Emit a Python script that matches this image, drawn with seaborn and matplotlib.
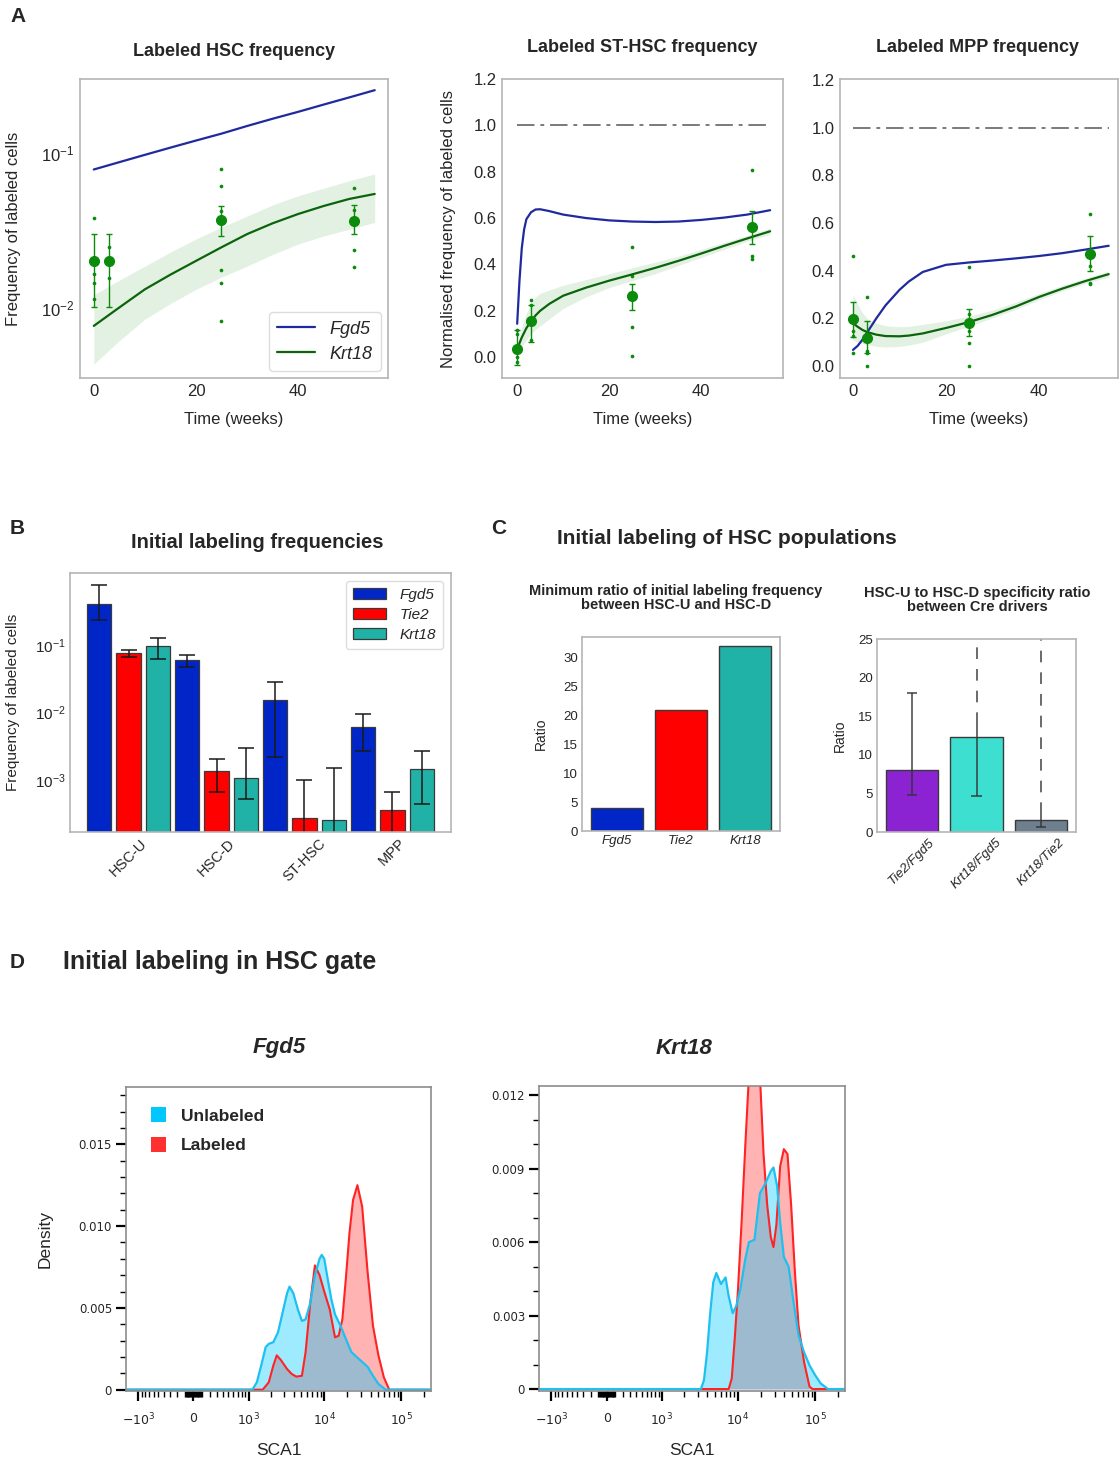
import numpy as np
import pandas as pd
import matplotlib
matplotlib.use("Agg")
import matplotlib.pyplot as plt
import seaborn as sns
from matplotlib.patches import Patch
from matplotlib.lines import Line2D
from matplotlib.ticker import (LogLocator, NullLocator, FixedLocator,
                               MultipleLocator, FormatStrFormatter)

# ---------------------------------------------------------------- data: panel A
T_HSC = [0, 5, 10, 15, 20, 25, 30, 35, 40, 45, 50, 55]
HSC_FGD5 = [0.078, 0.087, 0.097, 0.108, 0.120, 0.133, 0.149, 0.166, 0.184, 0.205, 0.228, 0.254]
HSC_KRT18 = [0.0076, 0.0100, 0.0131, 0.0163, 0.0200, 0.0245, 0.0298, 0.0350, 0.0402, 0.0453, 0.0503, 0.0542]
HSC_BAND_LO = [0.0043, 0.0061, 0.0084, 0.0106, 0.0131, 0.0157, 0.0185, 0.0220, 0.0257, 0.0290, 0.0320, 0.0355]
HSC_BAND_HI = [0.0121, 0.0150, 0.0185, 0.0228, 0.0277, 0.0330, 0.0390, 0.0460, 0.0528, 0.0590, 0.0660, 0.0730]
HSC_T = [0, 3, 25, 51]
HSC_MEAN = [0.020, 0.020, 0.0369, 0.036]
HSC_LO = [0.010, 0.010, 0.0288, 0.0297]
HSC_HI = [0.030, 0.030, 0.0455, 0.046]
HSC_DOT_T = [0, 0, 0, 0, 3, 3, 3, 25, 25, 25, 25, 25, 25, 51, 51, 51, 51]
HSC_DOT_V = [0.0378, 0.0164, 0.0143, 0.0113, 0.0246, 0.0195, 0.0154,
             0.0787, 0.0613, 0.0418, 0.0175, 0.0143, 0.0082,
             0.0593, 0.0428, 0.0236, 0.0183]

T_ST = [0, 0.5, 1, 1.5, 2, 3, 4, 5, 7, 10, 15, 20, 25, 30, 35, 40, 45, 50, 55]
ST_FGD5 = [0.144, 0.33, 0.47, 0.55, 0.595, 0.625, 0.637, 0.638, 0.63, 0.615, 0.60, 0.59,
           0.585, 0.583, 0.585, 0.592, 0.602, 0.615, 0.634]
ST_KRT18 = [0.03, 0.06, 0.085, 0.105, 0.125, 0.155, 0.18, 0.20, 0.23, 0.265, 0.30, 0.33,
            0.357, 0.385, 0.415, 0.447, 0.48, 0.512, 0.543]
ST_BAND_LO = [0.01, 0.03, 0.045, 0.06, 0.075, 0.10, 0.12, 0.135, 0.165, 0.21, 0.26, 0.30,
              0.33, 0.36, 0.395, 0.43, 0.465, 0.50, 0.53]
ST_BAND_HI = [0.05, 0.09, 0.13, 0.16, 0.19, 0.23, 0.26, 0.275, 0.29, 0.31, 0.335, 0.36,
              0.385, 0.41, 0.435, 0.465, 0.495, 0.525, 0.557]
ST_T = [0, 3, 25, 51]
ST_MEAN = [0.033, 0.154, 0.262, 0.56]
ST_LO = [-0.036, 0.065, 0.204, 0.489]
ST_HI = [0.115, 0.223, 0.317, 0.629]
ST_DOT_T = [0, 0, 0, 0, 3, 3, 3, 25, 25, 25, 25, 51, 51, 51]
ST_DOT_V = [0.118, 0.10, 0.0, -0.02, 0.245, 0.223, 0.072, 0.475, 0.352, 0.129, 0.003,
            0.806, 0.435, 0.424]

T_MPP = [0, 1, 2, 3, 5, 7, 10, 12, 15, 20, 25, 30, 35, 40, 45, 50, 55]
MPP_FGD5 = [0.068, 0.085, 0.11, 0.14, 0.20, 0.255, 0.32, 0.355, 0.395, 0.425, 0.435, 0.443,
            0.452, 0.462, 0.474, 0.489, 0.505]
MPP_KRT18 = [0.18, 0.165, 0.152, 0.143, 0.132, 0.126, 0.125, 0.128, 0.137, 0.16, 0.185,
             0.215, 0.25, 0.29, 0.325, 0.357, 0.386]
MPP_BAND_LO = [0.11, 0.10, 0.095, 0.09, 0.083, 0.08, 0.082, 0.088, 0.10, 0.135, 0.168,
               0.202, 0.238, 0.278, 0.315, 0.347, 0.374]
MPP_BAND_HI = [0.30, 0.26, 0.225, 0.20, 0.18, 0.17, 0.165, 0.167, 0.175, 0.19, 0.21,
               0.235, 0.268, 0.305, 0.338, 0.369, 0.398]
MPP_T = [0, 3, 25, 51]
MPP_MEAN = [0.196, 0.119, 0.18, 0.47]
MPP_LO = [0.12, 0.056, 0.126, 0.40]
MPP_HI = [0.27, 0.19, 0.24, 0.545]
MPP_DOT_T = [0, 0, 0, 0, 3, 3, 3, 3, 25, 25, 25, 25, 25, 51, 51, 51, 51]
MPP_DOT_V = [0.46, 0.147, 0.126, 0.056, 0.29, 0.063, 0.056, 0.0,
             0.417, 0.218, 0.147, 0.098, 0.0, 0.64, 0.42, 0.35, 0.344]

REF_T = [0, 55]
REF_LEVEL = [1.0, 1.0]

# ---------------------------------------------------------------- data: panel B
POPS = ["HSC-U", "HSC-D", "ST-HSC", "MPP"]
DRIVERS = ["Fgd5", "Tie2", "Krt18"]
B_FGD5 = [0.402, 0.0587, 0.01545, 0.00611]
B_FGD5_LO = [0.2286, 0.0469, 0.00221, 0.0027]
B_FGD5_HI = [0.758, 0.0712, 0.0282, 0.00961]
B_TIE2 = [0.0754, 0.00136, 0.000279, 0.000357]
B_TIE2_LO = [0.0658, 0.000673, 1e-5, 1e-5]
B_TIE2_HI = [0.0844, 0.00204, 0.00102, 0.000673]
B_KRT18 = [0.0945, 0.00109, 0.000254, 0.00147]
B_KRT18_LO = [0.0622, 0.000525, 1e-5, 0.000443]
B_KRT18_HI = [0.1254, 0.00303, 0.00149, 0.0027]

# ---------------------------------------------------------------- data: panel C
C1_DRIVERS = ["Fgd5", "Tie2", "Krt18"]
C1_RATIO = [4.0, 21.0, 32.0]
C2_PAIRS = ["Tie2/Fgd5", "Krt18/Fgd5", "Krt18/Tie2"]
C2_RATIO = [8.0, 12.3, 1.5]
C2_LO = [4.8, 4.6, 0.6]
C2_HI = [18.0, 14.0, 2.3]
C2_OPEN_ENDED = [False, True, True]

# ---------------------------------------------------------------- data: panel D
FGD5_UNLAB_X = [-1480, 1000, 1130, 1300, 1490, 1710, 1880, 2160, 2490, 2860, 3280, 3530,
                3950, 4540, 5120, 5720, 6580, 7560, 8690, 9290, 10000, 11100, 12400,
                13800, 16300, 19100, 22500, 26400, 31100, 36600, 43000, 50600, 62900, 244000]
FGD5_UNLAB_D = [0, 0, 0, 0.00045, 0.00147, 0.0026, 0.0028, 0.0029, 0.0035, 0.0047, 0.0059,
                0.0063, 0.0059, 0.0049, 0.0042, 0.0043, 0.0053, 0.0070, 0.0080, 0.00824,
                0.0080, 0.00676, 0.0055, 0.0046, 0.0039, 0.0031, 0.0023, 0.0020, 0.0017,
                0.0014, 0.00085, 0.00035, 0, 0]
FGD5_LAB_X = [-1480, 1560, 1880, 2160, 2400, 2730, 3280, 3770, 4330, 5120, 5720, 6580,
              7560, 8690, 10000, 11800, 13800, 15400, 17200, 19100, 21300, 23700, 27000,
              31100, 36600, 43000, 50600, 59600, 70000, 244000]
FGD5_LAB_D = [0, 0, 0.00045, 0.00147, 0.0021, 0.0018, 0.00126, 0.00096, 0.0008, 0.00085,
              0.0023, 0.0053, 0.0076, 0.0070, 0.0060, 0.0049, 0.0032, 0.0033, 0.0043,
              0.0068, 0.0096, 0.0116, 0.0125, 0.0112, 0.0072, 0.0039, 0.0021, 0.00075, 0, 0]
KRT18_UNLAB_X = [-1480, 3000, 3310, 3630, 3980, 4370, 4790, 5250, 6030, 6920, 7590, 8560,
                 9550, 10800, 12450, 13900, 16400, 19300, 22700, 26700, 28900, 32200,
                 35300, 39400, 45400, 51800, 61000, 72000, 84700, 100000, 118000, 147000,
                 244000]
KRT18_UNLAB_D = [0, 0, 0, 0.00037, 0.0015, 0.0031, 0.00436, 0.00474, 0.00429, 0.00456,
                 0.0038, 0.0031, 0.0034, 0.0041, 0.0053, 0.0060, 0.0061, 0.0080, 0.0084,
                 0.0089, 0.00905, 0.0083, 0.0068, 0.0054, 0.0050, 0.0037, 0.0022, 0.0015,
                 0.00097, 0.00057, 0.00023, 0, 0]
KRT18_LAB_X = [-1480, 7590, 8320, 9120, 10000, 11200, 12450, 13900, 16400, 19300, 21500,
               24000, 26700, 28900, 31500, 35300, 39400, 43900, 49000, 54700, 61000,
               72000, 84700, 92600, 244000]
KRT18_LAB_D = [0, 0, 0.00043, 0.0021, 0.0040, 0.0069, 0.0099, 0.0128, 0.0135, 0.0128,
               0.0096, 0.0075, 0.0062, 0.0058, 0.0067, 0.0091, 0.0098, 0.0096, 0.0075,
               0.0048, 0.0026, 0.0011, 0.0001, 0, 0]
SCA1_TICKS = [-1000, 0, 1000, 10000, 100000]
SCA1_TICK_LABELS = [r"$\mathdefault{-10^{3}}$", "0", r"$\mathdefault{10^{3}}$",
                    r"$\mathdefault{10^{4}}$", r"$\mathdefault{10^{5}}$"]

# ---------------------------------------------------------------- style
sns.set_theme(style="white")
plt.rcParams["font.family"] = ["Liberation Sans", "DejaVu Sans"]
plt.rcParams["axes.unicode_minus"] = True

BLUE_LINE = "#1f2a9e"
GREEN_LINE = "#0b640b"
GREEN_PT = "#0c8a0c"
BAR_BLUE = "#0026c8"
BAR_RED = "#ff0000"
BAR_TEAL = "#20b2a6"
FRAME = "#b5b5b5"

W, H = 1119, 1467
fig = plt.figure(figsize=(W / 100, H / 100), dpi=100)


def add_ax(l, t, r, b):
    return fig.add_axes([l / W, 1 - b / H, (r - l) / W, (b - t) / H])


def frame(ax, color=FRAME, lw=1.2):
    for s in ax.spines.values():
        s.set_visible(True)
        s.set_color(color)
        s.set_linewidth(lw)


# ---------------------------------------------------------------- panel A
def draw_a(ax, t, fgd5, krt18, blo, bhi, pt_t, mean, lo, hi, dot_t, dot_v):
    ax.fill_between(t, blo, bhi, color="green", alpha=0.11, lw=0)
    sns.lineplot(x=t, y=fgd5, ax=ax, color=BLUE_LINE, lw=1.6, estimator=None)
    sns.lineplot(x=t, y=krt18, ax=ax, color=GREEN_LINE, lw=1.6, estimator=None)
    sns.scatterplot(x=dot_t, y=dot_v, ax=ax, s=7, color=GREEN_PT, linewidth=0)
    mean = np.asarray(mean)
    yerr = [mean - np.asarray(lo), np.asarray(hi) - mean]
    ax.errorbar(pt_t, mean, yerr=yerr, fmt="o", ms=7, color=GREEN_PT,
                ecolor=GREEN_PT, elinewidth=1.0, capsize=2, capthick=1.0)
    frame(ax)
    ax.set_xticks([0, 20, 40])
    ax.tick_params(labelsize=12, length=0, pad=4)
    ax.set_xlabel("Time (weeks)", fontsize=12)
    ax.xaxis.set_label_coords(0.5, -0.115)


axA1 = add_ax(80, 79, 388, 378)
draw_a(axA1, T_HSC, HSC_FGD5, HSC_KRT18, HSC_BAND_LO, HSC_BAND_HI,
       HSC_T, HSC_MEAN, HSC_LO, HSC_HI, HSC_DOT_T, HSC_DOT_V)
axA1.set_yscale("log")
axA1.set_ylim(0.0035, 0.30)
axA1.set_xlim(-2.7, 57.6)
axA1.yaxis.set_major_locator(LogLocator(base=10, numticks=10))
axA1.yaxis.set_minor_locator(NullLocator())
axA1.tick_params(length=0, which="both")
axA1.set_ylabel("Frequency of labeled cells", fontsize=12)
axA1.yaxis.set_label_coords(-0.19, 0.5)
handles = [Line2D([], [], color=BLUE_LINE, lw=1.6), Line2D([], [], color=GREEN_LINE, lw=1.6)]
axA1.legend(handles, ["Fgd5", "Krt18"], loc="lower right", prop={"style": "italic", "size": 13},
            handlelength=2.1, frameon=True, edgecolor="#dddddd", framealpha=1,
            borderpad=0.45, labelspacing=0.45, borderaxespad=0.4)

axA2 = add_ax(502, 79, 783, 378)
draw_a(axA2, T_ST, ST_FGD5, ST_KRT18, ST_BAND_LO, ST_BAND_HI,
       ST_T, ST_MEAN, ST_LO, ST_HI, ST_DOT_T, ST_DOT_V)
axA2.plot(REF_T, REF_LEVEL, color="#7a7a7a", lw=1.4, linestyle=(0, (9, 3, 2, 3)))
axA2.set_ylim(-0.09, 1.2)
axA2.set_xlim(-3.3, 57.8)
axA2.set_yticks([0.0, 0.2, 0.4, 0.6, 0.8, 1.0, 1.2])
axA2.yaxis.set_major_formatter(FormatStrFormatter("%.1f"))
axA2.set_ylabel("Normalised frequency of labeled cells", fontsize=12)
axA2.yaxis.set_label_coords(-0.165, 0.5)

axA3 = add_ax(840, 79, 1118, 378)
draw_a(axA3, T_MPP, MPP_FGD5, MPP_KRT18, MPP_BAND_LO, MPP_BAND_HI,
       MPP_T, MPP_MEAN, MPP_LO, MPP_HI, MPP_DOT_T, MPP_DOT_V)
axA3.plot(REF_T, REF_LEVEL, color="#7a7a7a", lw=1.4, linestyle=(0, (9, 3, 2, 3)))
axA3.set_ylim(-0.05, 1.205)
axA3.set_xlim(-2.8, 57.0)
axA3.set_yticks([0.0, 0.2, 0.4, 0.6, 0.8, 1.0, 1.2])
axA3.yaxis.set_major_formatter(FormatStrFormatter("%.1f"))

fig.text(18 / W, 1 - 17 / H, "A", fontsize=15, fontweight="bold", ha="center", va="center")
fig.text(234 / W, 1 - 52 / H, "Labeled HSC frequency", fontsize=13, fontweight="bold",
         ha="center", va="center")
fig.text(642 / W, 1 - 47 / H, "Labeled ST-HSC frequency", fontsize=13, fontweight="bold",
         ha="center", va="center")
fig.text(978 / W, 1 - 47 / H, "Labeled MPP frequency", fontsize=13, fontweight="bold",
         ha="center", va="center")

# ---------------------------------------------------------------- panel B
b_vals = {"Fgd5": B_FGD5, "Tie2": B_TIE2, "Krt18": B_KRT18}
b_lo = {"Fgd5": B_FGD5_LO, "Tie2": B_TIE2_LO, "Krt18": B_KRT18_LO}
b_hi = {"Fgd5": B_FGD5_HI, "Tie2": B_TIE2_HI, "Krt18": B_KRT18_HI}
dfB = pd.DataFrame([{"population": p, "driver": d, "frequency": b_vals[d][i]}
                    for d in DRIVERS for i, p in enumerate(POPS)])
b_palette = {"Fgd5": BAR_BLUE, "Tie2": BAR_RED, "Krt18": BAR_TEAL}

axB = add_ax(70, 573, 451, 832)
sns.barplot(data=dfB, x="population", y="frequency", hue="driver", order=POPS,
            hue_order=DRIVERS, palette=b_palette, saturation=1, width=1.0, gap=0.17,
            edgecolor="#3a3a3a", linewidth=0.9, errorbar=None, ax=axB)
axB.set_yscale("log")
for cont, drv in zip(axB.containers, DRIVERS):
    for bar in cont:
        xc = bar.get_x() + bar.get_width() / 2
        i = int(round(xc))
        v, lo, hi = b_vals[drv][i], b_lo[drv][i], b_hi[drv][i]
        axB.errorbar(xc, v, yerr=[[v - lo], [hi - v]], color="#1a1a1a", lw=1.1,
                     capsize=6, capthick=1.1)
axB.set_ylim(1.71e-4, 1.15)
axB.set_xlim(-0.667, 3.667)
axB.set_yticks([1e-3, 1e-2, 1e-1])
axB.yaxis.set_minor_locator(NullLocator())
frame(axB)
axB.set_xlabel("")
axB.set_ylabel("Frequency of labeled cells", fontsize=11)
axB.yaxis.set_label_coords(-0.13, 0.5)
axB.tick_params(which="both", length=0)
axB.tick_params(axis="y", labelsize=11, pad=3)
axB.set_xticks(range(len(POPS)))
axB.set_xticklabels(POPS, rotation=45, fontsize=10.5)
axB.tick_params(axis="x", pad=3)
bh = [Patch(facecolor=b_palette[d], edgecolor="#3a3a3a", lw=0.9) for d in DRIVERS]
axB.legend(bh, DRIVERS, loc="upper right", prop={"style": "italic", "size": 11},
           handlelength=2.2, handleheight=0.75, frameon=True, edgecolor="#dddddd",
           framealpha=1, borderpad=0.45, labelspacing=0.4, handletextpad=0.9,
           borderaxespad=0.5)

fig.text(17 / W, 1 - 528 / H, "B", fontsize=15, fontweight="bold", ha="center", va="center")
fig.text(257 / W, 1 - 542 / H, "Initial labeling frequencies", fontsize=14.5,
         fontweight="bold", ha="center", va="center")

# ---------------------------------------------------------------- panel C
axC1 = add_ax(582, 637, 780, 831)
sns.barplot(x=C1_DRIVERS, y=C1_RATIO, hue=C1_DRIVERS, palette=[BAR_BLUE, BAR_RED, BAR_TEAL],
            legend=False, saturation=1, width=0.81, edgecolor="#3a3a3a", linewidth=1.0,
            ax=axC1)
axC1.set_ylim(0, 33.6)
axC1.set_xlim(-0.54, 2.54)
axC1.set_yticks([0, 5, 10, 15, 20, 25, 30])
frame(axC1)
axC1.tick_params(labelsize=9.5, length=0, pad=3)
axC1.set_xticks(range(3))
axC1.set_xticklabels(C1_DRIVERS, fontstyle="italic", fontsize=9.5)
axC1.set_ylabel("Ratio", fontsize=10)
axC1.yaxis.set_label_coords(-0.17, 0.5)

axC2 = add_ax(877, 639, 1076, 832)
sns.barplot(x=C2_PAIRS, y=C2_RATIO, hue=C2_PAIRS, palette=["#8c23d2", "#3ddfd0", "#6e7f90"],
            legend=False, saturation=1, width=0.81, edgecolor="#3a3a3a", linewidth=1.0,
            ax=axC2)
C2_TOP = 25
for i in range(len(C2_PAIRS)):
    axC2.vlines(i, C2_LO[i], C2_HI[i], color="#333333", lw=1.2, alpha=0.85)
    axC2.hlines(C2_LO[i], i - 0.08, i + 0.08, color="#333333", lw=1.2, alpha=0.85)
    if C2_OPEN_ENDED[i]:
        axC2.vlines(i, C2_HI[i], C2_TOP, color="#333333", lw=1.2, alpha=0.85,
                    linestyles=(0, (7, 6)))
    else:
        axC2.hlines(C2_HI[i], i - 0.08, i + 0.08, color="#333333", lw=1.2, alpha=0.85)
axC2.set_ylim(0, C2_TOP)
axC2.set_xlim(-0.54, 2.54)
axC2.set_yticks([0, 5, 10, 15, 20, 25])
frame(axC2)
axC2.tick_params(labelsize=9.5, length=0, pad=3)
axC2.set_xticks(range(3))
axC2.set_xticklabels(C2_PAIRS, rotation=45, fontstyle="italic", fontsize=9.5)
axC2.set_ylabel("Ratio", fontsize=10)
axC2.yaxis.set_label_coords(-0.15, 0.5)

fig.text(499 / W, 1 - 528 / H, "C", fontsize=15, fontweight="bold", ha="center", va="center")
fig.text(557 / W, 1 - 538 / H, "Initial labeling of HSC populations", fontsize=15,
         fontweight="bold", ha="left", va="center")
fig.text(676 / W, 1 - 598 / H,
         "Minimum ratio of initial labeling frequency\nbetween HSC-U and HSC-D",
         fontsize=10.5, fontweight="bold", ha="center", va="center", linespacing=1.05)
fig.text(977 / W, 1 - 600 / H, "HSC-U to HSC-D specificity ratio\nbetween Cre drivers",
         fontsize=10.5, fontweight="bold", ha="center", va="center", linespacing=1.05)

# ---------------------------------------------------------------- panel D
def fwd(x):
    return np.arcsinh(np.asarray(x, dtype=float) / 400.0)


def inv(y):
    return 400.0 * np.sinh(np.asarray(y, dtype=float))


minor_x = sorted(set(
    [s * k * 10 ** n for n in (1, 2) for k in range(1, 10) for s in (-1, 1)] +
    [k * 10 ** n for n in (3, 4, 5) for k in range(2, 10) if k * 10 ** n < 2.4e5]))
minor_x = [m for m in minor_x if m not in SCA1_TICKS]

CYAN_LINE = "#1ec0f0"
CYAN_FILL = "#00c8ff"
RED_LINE = "#ff2323"
RED_FILL = "#ff4a4a"


def draw_d(ax, ux, ud, lx, ld, ymax, yticks, ylabels):
    ax.set_xscale("function", functions=(fwd, inv))
    ax.fill_between(lx, 0, ld, color=RED_FILL, alpha=0.42, lw=0)
    sns.lineplot(x=lx, y=ld, ax=ax, color=RED_LINE, lw=1.5, estimator=None, sort=False)
    ax.fill_between(ux, 0, ud, color=CYAN_FILL, alpha=0.38, lw=0)
    sns.lineplot(x=ux, y=ud, ax=ax, color=CYAN_LINE, lw=1.6, estimator=None, sort=False)
    ax.set_xlim(-1480, 244000)
    ax.set_ylim(-0.00008, ymax)
    ax.set_xticks(SCA1_TICKS)
    ax.set_xticklabels(SCA1_TICK_LABELS, fontsize=9, fontfamily="DejaVu Sans")
    ax.xaxis.set_minor_locator(FixedLocator(minor_x))
    ax.set_yticks(yticks)
    ax.set_yticklabels(ylabels, fontsize=8.5, fontfamily="DejaVu Sans")
    ax.yaxis.set_minor_locator(MultipleLocator(0.001))
    ax.tick_params(axis="both", which="major", bottom=True, left=True, direction="out",
                   color="black", length=7, width=1.6)
    ax.tick_params(axis="both", which="minor", bottom=True, left=True, direction="out",
                   color="black", length=4, width=1.0)
    ax.tick_params(axis="x", which="major", pad=8)
    ax.tick_params(axis="y", which="major", pad=3)
    frame(ax, color="#8c8c8c", lw=1.2)
    ax.set_xlabel("SCA1", fontsize=12.5)
    ax.xaxis.set_label_coords(0.5, -0.17)


axD1 = add_ax(126, 1087, 431, 1391)
draw_d(axD1, FGD5_UNLAB_X, FGD5_UNLAB_D, FGD5_LAB_X, FGD5_LAB_D, 0.0185,
       [0, 0.005, 0.010, 0.015], ["0", "0.005", "0.010", "0.015"])
axD1.set_ylabel("Density", fontsize=12.5)
axD1.yaxis.set_label_coords(-0.24, 0.5)
dh = [Patch(facecolor=CYAN_FILL, edgecolor="none"), Patch(facecolor="#ff3030", edgecolor="none")]
axD1.legend(dh, ["Unlabeled", "Labeled"], loc="upper left", bbox_to_anchor=(0.03, 0.985),
            frameon=False, prop={"weight": "bold", "size": 12.5}, handlelength=0.85,
            handleheight=0.95, handletextpad=0.9, labelspacing=0.75)

axD2 = add_ax(539, 1086, 845, 1391)
draw_d(axD2, KRT18_UNLAB_X, KRT18_UNLAB_D, KRT18_LAB_X, KRT18_LAB_D, 0.01238,
       [0, 0.003, 0.006, 0.009, 0.012], ["0", "0.003", "0.006", "0.009", "0.012"])
axD2.set_ylabel("")

fig.text(17 / W, 1 - 962 / H, "D", fontsize=15, fontweight="bold", ha="center", va="center")
fig.text(63 / W, 1 - 962 / H, "Initial labeling in HSC gate", fontsize=18, fontweight="bold",
         ha="left", va="center")
fig.text(279 / W, 1 - 1048 / H, "Fgd5", fontsize=16, fontweight="bold", fontstyle="italic",
         ha="center", va="center")
fig.text(684 / W, 1 - 1048 / H, "Krt18", fontsize=16, fontweight="bold", fontstyle="italic",
         ha="center", va="center")

fig.savefig("out.png", dpi=100)
